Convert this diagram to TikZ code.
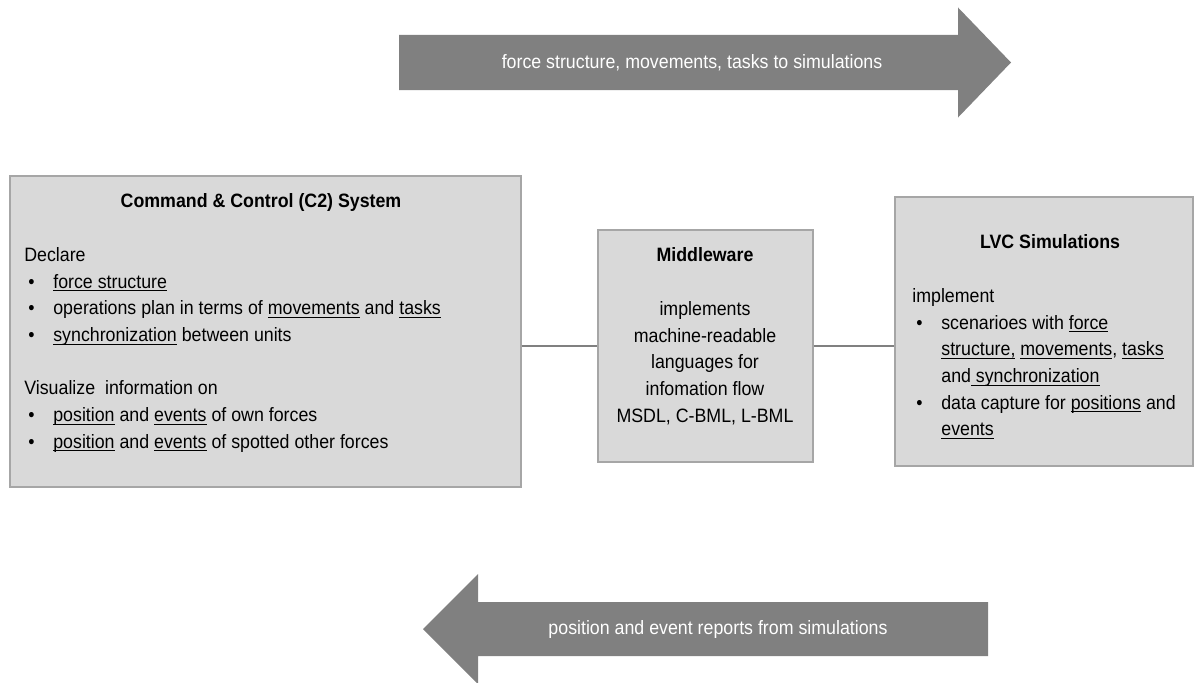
\documentclass[tikz,border=0pt]{standalone}
\usepackage{fontspec}
\setmainfont{Liberation Sans}[FakeStretch=0.92]
\definecolor{boxfill}{HTML}{D9D9D9}
\definecolor{boxline}{HTML}{A6A6A6}
\definecolor{flow}{HTML}{808080}
\newcommand\fsz{\fontsize{11}{15.2}\selectfont}
\newcommand\ulin[1]{\underline{\smash{#1}}}
\newcommand\bul{\hspace*{0.08cm}\makebox[0.5cm][l]{\textbullet}}

\begin{document}
\begin{tikzpicture}[block/.style={draw=boxline,fill=boxfill,line width=0.6pt,inner sep=0pt},head/.style={font=\bfseries\fsz,anchor=base,inner sep=0pt},body/.style={font=\fsz,align=left,anchor=north west,inner sep=0pt},wire/.style={draw=flow,line width=0.6pt},band/.style={fill=flow},bandtext/.style={text=white,font=\fsz,inner sep=0pt}]
 \useasboundingbox (0,0) rectangle (24,13.64);
 \fill[band] (7.98,11.84) -- (7.98,12.94) -- (19.16,12.94) -- (19.16,13.49) -- (20.22,12.39) -- (19.16,11.29) -- (19.16,11.84) -- cycle;
 \fill[band] (19.76,0.52) -- (19.76,1.6) -- (9.56,1.6) -- (9.56,2.16) -- (8.46,1.06) -- (9.56,-0.04) -- (9.56,0.52) -- cycle;
 \node[bandtext] (pushtext) at (13.84,12.39) {force structure, movements, tasks to simulations};
 \node[bandtext] (backtext) at (14.36,1.06) {position and event reports from simulations};
 \node[block,minimum width=10.22cm,minimum height=6.22cm] (c2) at (5.31,7.01) {};
 \node[block,minimum width=4.3cm,minimum height=4.64cm] (mw) at (14.11,6.72) {};
 \node[block,minimum width=5.96cm,minimum height=5.38cm] (lvc) at (20.88,7.01) {};
 \draw[wire] (c2.east |- mw.west) -- (mw.west);
 \draw[wire] (mw.east) -- (lvc.west |- mw.east);
 \node[head] (c2title) at (5.22,9.5) {Command \& Control (C2) System};
 \node[body] (c2text) at (0.48,8.7) {Declare\\
  \bul\ulin{force structure}\\
  \bul operations plan in terms of \ulin{movements} and \ulin{tasks}\\
  \bul\ulin{synchronization} between units\\[15.2pt]
  Visualize\ \ information on\\
  \bul\ulin{position} and \ulin{events} of own forces\\
  \bul\ulin{position} and \ulin{events} of spotted other forces};
 \node[head] (mwtitle) at (14.1,8.42) {Middleware};
 \node[body,align=center,anchor=north] (mwtext) at (14.1,7.62) {implements\\machine-readable\\languages for\\infomation flow\\MSDL, C-BML, L-BML};
 \node[head] (lvctitle) at (21.0,8.68) {LVC Simulations};
 \node[body] (lvctext) at (18.24,7.88) {implement\\
  \bul scenarioes with \ulin{force}\\
  \hspace*{0.58cm}\ulin{structure,} \ulin{movements}, \ulin{tasks}\\
  \hspace*{0.58cm}and\ulin{ synchronization}\\
  \bul data capture for \ulin{positions} and\\
  \hspace*{0.58cm}\ulin{events}};
\end{tikzpicture}
\end{document}
